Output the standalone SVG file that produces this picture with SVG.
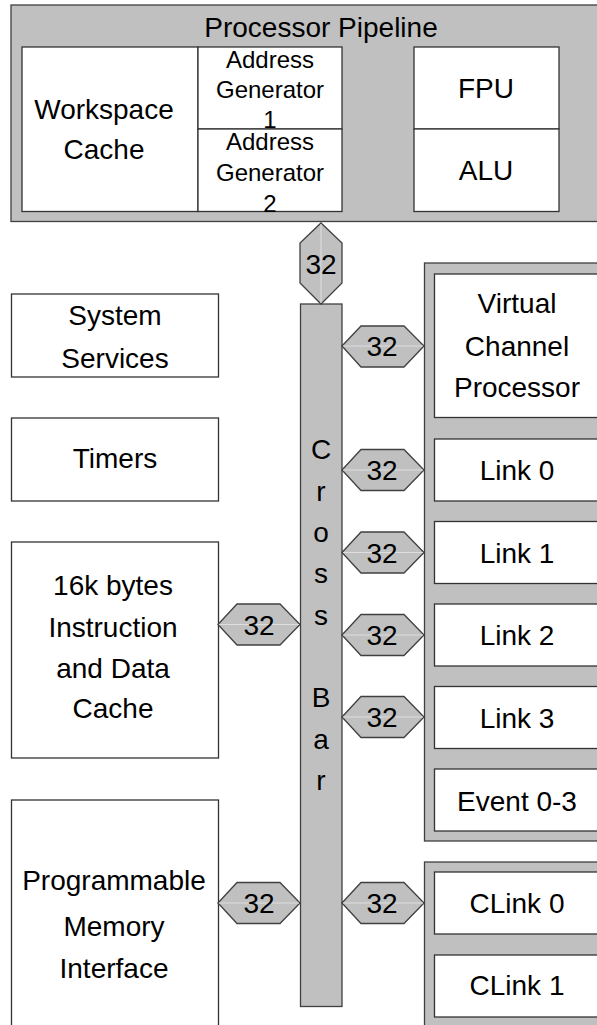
<svg xmlns="http://www.w3.org/2000/svg" width="597" height="1025" viewBox="0 0 597 1025">
<style>
text{font-family:"Liberation Sans",Arial,sans-serif;font-size:28px;fill:#000;text-anchor:middle}
.ag{font-size:24px}
.gray{fill:#c0c0c0;stroke:#404040;stroke-width:1.3}
.box{fill:#fff;stroke:#333;stroke-width:1.3}
.hex{fill:#c0c0c0;stroke:#404040;stroke-width:1.3}
.hl{stroke:#dedede;stroke-width:1}
</style>
<rect width="597" height="1025" fill="#fff"/>
<g id="processor-pipeline">
<rect class="gray" x="11" y="5" width="600" height="216.5"/>
<text x="321" y="37">Processor Pipeline</text>
</g>
<g id="workspace-cache">
<rect class="box" x="22" y="47" width="176" height="164.5"/>
<text x="104" y="119">Workspace</text>
<text x="104" y="159">Cache</text>
</g>
<g id="address-generator-1">
<rect class="box" x="198" y="47" width="144" height="82"/>
<text class="ag" x="270" y="68">Address</text>
<text class="ag" x="270" y="98">Generator</text>
<text class="ag" x="270" y="128">1</text>
</g>
<g id="address-generator-2">
<rect class="box" x="198" y="129" width="144" height="82.5"/>
<text class="ag" x="270" y="150">Address</text>
<text class="ag" x="270" y="181">Generator</text>
<text class="ag" x="270" y="212">2</text>
</g>
<g id="fpu">
<rect class="box" x="414" y="47" width="145" height="82"/>
<text x="486" y="98">FPU</text>
</g>
<g id="alu">
<rect class="box" x="414" y="129" width="145" height="82.5"/>
<text x="486" y="180">ALU</text>
</g>
<g id="system-services">
<rect class="box" x="11.5" y="294" width="207" height="83"/>
<text x="115" y="325">System</text>
<text x="115" y="368">Services</text>
</g>
<g id="timers">
<rect class="box" x="11.5" y="418" width="207" height="83"/>
<text x="115" y="468">Timers</text>
</g>
<g id="instruction-data-cache">
<rect class="box" x="11.5" y="542" width="207" height="216"/>
<text x="113" y="595">16k bytes</text>
<text x="113" y="637">Instruction</text>
<text x="113" y="678">and Data</text>
<text x="113" y="718">Cache</text>
</g>
<g id="programmable-memory-interface">
<rect class="box" x="11.5" y="800" width="207" height="260"/>
<text x="114" y="890">Programmable</text>
<text x="114" y="936">Memory</text>
<text x="114" y="978">Interface</text>
</g>
<g id="cross-bar">
<rect class="gray" x="300.5" y="304" width="41.5" height="702.5"/>
<text x="321" y="459">C</text>
<text x="321" y="501">r</text>
<text x="321" y="542">o</text>
<text x="321" y="583">s</text>
<text x="321" y="625">s</text>
<text x="321" y="707">B</text>
<text x="321" y="749">a</text>
<text x="321" y="790">r</text>
</g>
<g id="link-group">
<rect class="gray" x="424.5" y="263" width="200" height="578"/>
</g>
<g id="virtual-channel-processor">
<rect class="box" x="434.5" y="274" width="180" height="143.5"/>
<text x="517" y="313">Virtual</text>
<text x="517" y="356">Channel</text>
<text x="517" y="397">Processor</text>
</g>
<g id="link-0">
<rect class="box" x="434.5" y="439" width="180" height="62"/>
<text x="517" y="480">Link 0</text>
</g>
<g id="link-1">
<rect class="box" x="434.5" y="521.5" width="180" height="62"/>
<text x="517" y="563">Link 1</text>
</g>
<g id="link-2">
<rect class="box" x="434.5" y="604" width="180" height="62"/>
<text x="517" y="645">Link 2</text>
</g>
<g id="link-3">
<rect class="box" x="434.5" y="686.5" width="180" height="62"/>
<text x="517" y="728">Link 3</text>
</g>
<g id="event-0-3">
<rect class="box" x="434.5" y="769" width="180" height="62"/>
<text x="517" y="811">Event 0-3</text>
</g>
<g id="clink-group">
<rect class="gray" x="424.5" y="862" width="200" height="200"/>
</g>
<g id="clink-0">
<rect class="box" x="434.5" y="872" width="180" height="62"/>
<text x="517" y="913">CLink 0</text>
</g>
<g id="clink-1">
<rect class="box" x="434.5" y="955" width="180" height="62"/>
<text x="517" y="995">CLink 1</text>
</g>
<g id="connectors">
<g id="bus-pipeline">
<polygon class="hex" points="321,223 342,243 342,283 321,304 300,283 300,243"/>
<line class="hl" x1="321" y1="224" x2="321" y2="303"/>
<text x="321" y="274">32</text>
</g>
<g id="bus-vcp">
<polygon class="hex" points="342,346 361,326 404,326 424,346 404,367 361,367"/>
<line class="hl" x1="343" y1="346" x2="423" y2="346"/>
<text x="382" y="356">32</text>
</g>
<g id="bus-link0">
<polygon class="hex" points="342,470 361,449.5 404,449.5 424,470 404,490.5 361,490.5"/>
<line class="hl" x1="343" y1="470" x2="423" y2="470"/>
<text x="382" y="480">32</text>
</g>
<g id="bus-link1">
<polygon class="hex" points="342,552.5 361,532 404,532 424,552.5 404,573 361,573"/>
<line class="hl" x1="343" y1="552.5" x2="423" y2="552.5"/>
<text x="382" y="562.5">32</text>
</g>
<g id="bus-link2">
<polygon class="hex" points="342,635 361,614.5 404,614.5 424,635 404,655.5 361,655.5"/>
<line class="hl" x1="343" y1="635" x2="423" y2="635"/>
<text x="382" y="645">32</text>
</g>
<g id="bus-link3">
<polygon class="hex" points="342,717 361,696.5 404,696.5 424,717 404,737.5 361,737.5"/>
<line class="hl" x1="343" y1="717" x2="423" y2="717"/>
<text x="382" y="727">32</text>
</g>
<g id="bus-clink">
<polygon class="hex" points="342,903 361,882.5 404,882.5 424,903 404,923.5 361,923.5"/>
<line class="hl" x1="343" y1="903" x2="423" y2="903"/>
<text x="382" y="913">32</text>
</g>
<g id="bus-cache">
<polygon class="hex" points="218,624.5 237,604 280,604 300,624.5 280,645 237,645"/>
<line class="hl" x1="219" y1="624.5" x2="299" y2="624.5"/>
<text x="259" y="634.5">32</text>
</g>
<g id="bus-memory">
<polygon class="hex" points="218,903 237,882.5 280,882.5 300,903 280,923.5 237,923.5"/>
<line class="hl" x1="219" y1="903" x2="299" y2="903"/>
<text x="259" y="913">32</text>
</g>
</g>
</svg>
